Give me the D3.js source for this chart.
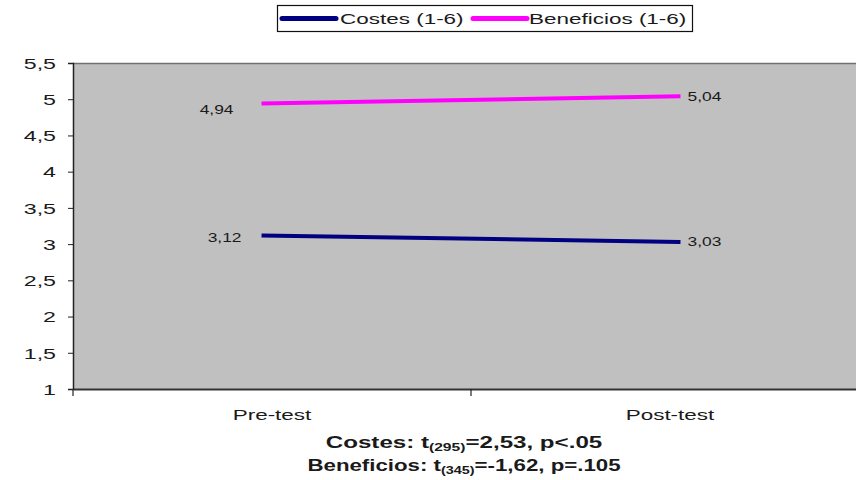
<!DOCTYPE html>
<html><head><meta charset="utf-8">
<script src="https://cdn.jsdelivr.net/npm/d3@7"></script>
<style>
body{margin:0;background:#fff;}
text{font-family:"Liberation Sans",Arial,sans-serif;fill:#1a1a1a;}
</style></head>
<body><svg id="c" width="856" height="480"></svg>
<script>
const categories = ["Pre-test", "Post-test"];
const seriesNames = ["Costes (1-6)", "Beneficios (1-6)"];
const costes = [3.12, 3.03];
const beneficios = [4.94, 5.04];
const costesLabels = ["3,12", "3,03"];
const beneficiosLabels = ["4,94", "5,04"];
const yTicks = [1, 1.5, 2, 2.5, 3, 3.5, 4, 4.5, 5, 5.5];
const statLines = [
  ["Costes: t", "(295)", "=2,53, p<.05"],
  ["Beneficios: t", "(345)", "=-1,62, p=.105"]
];

const K = 1.45; // horizontal stretch of the reference picture
const svg = d3.select("#c");
const L = 73, T = 63, B = 389, R = 869;

const y = d3.scaleLinear().domain([1, 5.5]).range([B, T]);
const xb = d3.scaleBand().domain(categories).range([L, R]);
const xp = d3.scalePoint().domain(categories).range([L, R]).padding(0.45);

// plot background
svg.append("rect").attr("x", L).attr("y", T).attr("width", R - L).attr("height", B - T)
  .attr("fill", "#c0c0c0");
svg.append("line").attr("x1", L).attr("x2", R).attr("y1", T + 0.5).attr("y2", T + 0.5)
  .attr("stroke", "#707070").attr("stroke-width", 1.5);

function sText(g, x, yy, str, size, anchor, weight, k) {
  return g.append("text")
    .attr("transform", `translate(${x},${yy}) scale(${k || K},1)`)
    .attr("text-anchor", anchor || "start")
    .attr("font-size", size)
    .attr("font-weight", weight || "normal")
    .text(str);
}

// y axis
const ya = svg.append("g").attr("transform", `translate(${L},0)`)
  .call(d3.axisLeft(y).tickValues(yTicks).tickSize(5).tickPadding(0)
    .tickFormat(d => String(d).replace(".", ",")));
ya.select(".domain").attr("stroke", "#222").attr("stroke-width", 1.5);
ya.selectAll(".tick line").attr("stroke", "#222");
ya.selectAll(".tick text").attr("font-size", 14.5).attr("font-family", "Liberation Sans, Arial, sans-serif")
  .attr("fill", "#222").attr("x", 0).attr("dy", "0.36em")
  .attr("transform", `translate(-17,0) scale(1.6,1)`);

// x axis
const xa = svg.append("g").attr("transform", `translate(0,${B})`)
  .call(d3.axisBottom(xb).tickValues([]).tickSizeOuter(0));
xa.select(".domain").attr("stroke", "#333").attr("stroke-width", 2);
xa.selectAll(".b").data([L, xb(categories[1])]).enter().append("line")
  .attr("x1", d => d).attr("x2", d => d).attr("y1", 0).attr("y2", 7)
  .attr("stroke", "#222").attr("stroke-width", 1.2);
categories.forEach(c => sText(svg, xb(c) + xb.bandwidth() / 2, 420, c, 15.5, "middle"));

// lines
const line = d3.line().x((d, i) => xp(categories[i])).y(d => y(d));
const series = [
  {vals: costes, labels: costesLabels, color: "#000080", lx: -20, ly: 2},
  {vals: beneficios, labels: beneficiosLabels, color: "#ff00ff", lx: -28, ly: 6}
];
series.forEach(s => {
  svg.append("path").datum(s.vals).attr("d", line).attr("fill", "none")
    .attr("stroke", s.color).attr("stroke-width", 4);
  s.vals.forEach((v, i) => {
    const px = xp(categories[i]);
    if (i === 0) sText(svg, px + s.lx, y(v) + 4.5 + s.ly, s.labels[i], 12, "end");
    else sText(svg, px + 7, y(v) + 4.5, s.labels[i], 12, "start");
  });
});

// legend
const lg = svg.append("g");
lg.append("rect").attr("x", 277.5).attr("y", 5.5).attr("width", 415).attr("height", 26)
  .attr("fill", "#fff").attr("stroke", "#111").attr("stroke-width", 1.2);
const legX = [[282, 336, 340], [473, 527, 529]];
series.forEach((s, i) => {
  lg.append("line").attr("x1", legX[i][0]).attr("x2", legX[i][1]).attr("y1", 18.5).attr("y2", 18.5)
    .attr("stroke", s.color).attr("stroke-width", 5).attr("stroke-linecap", "round");
  sText(lg, legX[i][2], 24, seriesNames[i], 15.5, "start");
});

// stats text
const cx = 464;
const statScale = [1.42, 1.31];
statLines.forEach((parts, i) => {
  const t = svg.append("text")
    .attr("transform", `translate(${cx},${448 + i * 23}) scale(${statScale[i]},1)`)
    .attr("text-anchor", "middle").attr("font-size", 17).attr("font-weight", "bold");
  t.append("tspan").text(parts[0]);
  t.append("tspan").attr("font-size", 11).attr("dy", 3).text(parts[1]);
  t.append("tspan").attr("dy", -3).text(parts[2]);
});
</script></body></html>
